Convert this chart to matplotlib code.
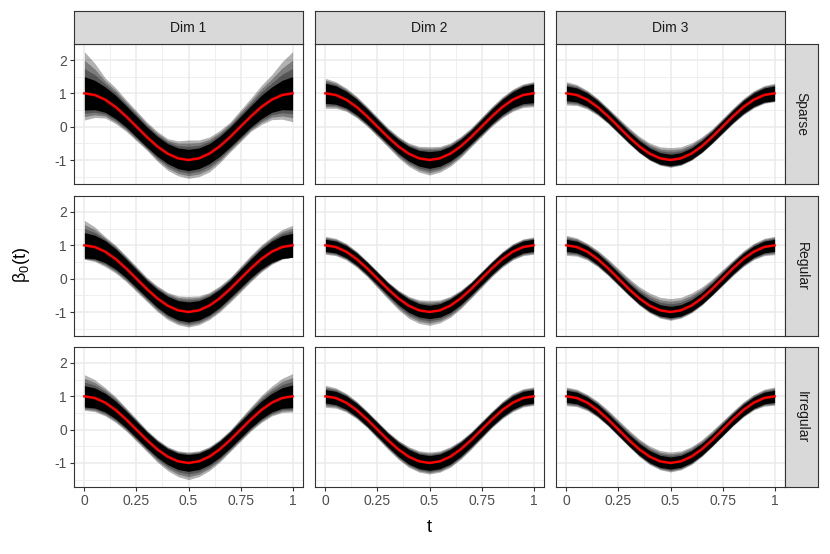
import numpy as np
import matplotlib
matplotlib.use("Agg")
import matplotlib.pyplot as plt

plt.rcParams['font.family'] = ['Liberation Sans', 'DejaVu Sans']
plt.rcParams['mathtext.fontset'] = 'custom'
plt.rcParams['mathtext.rm'] = 'Liberation Sans'

# ============================
# data
# ============================
dims = ["Dim 1", "Dim 2", "Dim 3"]
designs = ["Sparse", "Regular", "Irregular"]

# true beta_0(t), red curve
t_vals = [0.0, 0.05, 0.1, 0.15, 0.2, 0.25, 0.3, 0.35, 0.4, 0.45, 0.5,
          0.55, 0.6, 0.65, 0.7, 0.75, 0.8, 0.85, 0.9, 0.95, 1.0]
truth = [1.0, 0.95, 0.81, 0.59, 0.31, 0.0, -0.31, -0.59, -0.81, -0.95, -1.0,
         -0.95, -0.81, -0.59, -0.31, 0.0, 0.31, 0.59, 0.81, 0.95, 1.0]

# spread of the estimated curves around the truth, read at these t
spread_t = [0.0, 0.1, 0.2, 0.3, 0.4, 0.5, 0.6, 0.7, 0.8, 0.9, 1.0]
# upper extreme, lower extreme, dense core half width  [row][col]
outer_hi = [
    [[1.25, 0.65, 0.5, 0.45, 0.45, 0.6, 0.5, 0.45, 0.55, 0.75, 1.25],
     [0.45, 0.35, 0.3, 0.28, 0.32, 0.4, 0.32, 0.28, 0.3, 0.32, 0.35],
     [0.35, 0.28, 0.25, 0.28, 0.32, 0.37, 0.32, 0.25, 0.25, 0.27, 0.3]],
    [[0.75, 0.45, 0.38, 0.35, 0.4, 0.47, 0.4, 0.35, 0.4, 0.45, 0.6],
     [0.27, 0.25, 0.22, 0.22, 0.28, 0.35, 0.28, 0.22, 0.22, 0.24, 0.25],
     [0.3, 0.25, 0.28, 0.32, 0.38, 0.4, 0.38, 0.3, 0.25, 0.25, 0.27]],
    [[0.65, 0.45, 0.35, 0.3, 0.3, 0.33, 0.3, 0.3, 0.38, 0.5, 0.68],
     [0.33, 0.28, 0.25, 0.25, 0.3, 0.33, 0.3, 0.25, 0.25, 0.28, 0.28],
     [0.28, 0.25, 0.28, 0.3, 0.32, 0.33, 0.3, 0.28, 0.25, 0.25, 0.28]],
]
outer_lo = [
    [[0.8, 0.55, 0.45, 0.4, 0.5, 0.55, 0.55, 0.45, 0.45, 0.6, 0.85],
     [0.45, 0.35, 0.3, 0.3, 0.38, 0.45, 0.38, 0.3, 0.3, 0.35, 0.4],
     [0.35, 0.28, 0.22, 0.2, 0.2, 0.22, 0.2, 0.2, 0.22, 0.25, 0.25]],
    [[0.42, 0.45, 0.4, 0.38, 0.42, 0.45, 0.42, 0.4, 0.4, 0.38, 0.35],
     [0.27, 0.25, 0.25, 0.3, 0.38, 0.4, 0.35, 0.28, 0.25, 0.25, 0.27],
     [0.3, 0.25, 0.22, 0.2, 0.22, 0.25, 0.22, 0.2, 0.22, 0.24, 0.28]],
    [[0.42, 0.4, 0.35, 0.35, 0.42, 0.5, 0.42, 0.35, 0.35, 0.4, 0.47],
     [0.33, 0.28, 0.25, 0.28, 0.32, 0.33, 0.32, 0.28, 0.25, 0.27, 0.27],
     [0.28, 0.24, 0.2, 0.2, 0.24, 0.27, 0.24, 0.2, 0.2, 0.22, 0.27]],
]
core_hw = [
    [[0.5, 0.38, 0.32, 0.3, 0.3, 0.32, 0.3, 0.3, 0.32, 0.38, 0.5],
     [0.3, 0.25, 0.22, 0.2, 0.22, 0.25, 0.22, 0.2, 0.22, 0.24, 0.28],
     [0.22, 0.2, 0.18, 0.17, 0.17, 0.17, 0.17, 0.17, 0.18, 0.2, 0.22]],
    [[0.38, 0.33, 0.28, 0.26, 0.28, 0.3, 0.28, 0.26, 0.28, 0.32, 0.36],
     [0.18, 0.18, 0.18, 0.18, 0.2, 0.2, 0.2, 0.18, 0.18, 0.18, 0.18],
     [0.18, 0.17, 0.17, 0.17, 0.17, 0.17, 0.17, 0.17, 0.17, 0.17, 0.18]],
    [[0.32, 0.28, 0.25, 0.24, 0.24, 0.25, 0.24, 0.24, 0.25, 0.28, 0.34],
     [0.2, 0.2, 0.2, 0.2, 0.22, 0.22, 0.22, 0.2, 0.2, 0.2, 0.2],
     [0.18, 0.17, 0.17, 0.17, 0.18, 0.18, 0.18, 0.17, 0.17, 0.17, 0.18]],
]

x_ticks = [0, 0.25, 0.5, 0.75, 1]
x_labels = ["0", "0.25", "0.5", "0.75", "1"]
y_ticks = [-1, 0, 1, 2]

# ============================
# layout (pixels of an 830x554 canvas)
# ============================
W, H = 830, 554
col_left = [74, 315, 556]
panel_w = 229
row_top = [44, 196, 347]
panel_h = 140
strip = 33

fig = plt.figure(figsize=(W / 100, H / 100), dpi=100)
fig.patch.set_facecolor("white")

def px_box(x0, y0, w, h):
    return [x0 / W, 1 - (y0 + h) / H, w / W, h / H]

def style_strip(a):
    a.set_facecolor("#D9D9D9")
    a.set_xticks([])
    a.set_yticks([])
    for s in a.spines.values():
        s.set_color("#333333")
        s.set_linewidth(0.8)

t = np.array(t_vals)
mid = np.array(truth)

for r in range(3):
    for c in range(3):
        ax = fig.add_axes(px_box(col_left[c], row_top[r], panel_w, panel_h))
        ax.set_xlim(-0.05, 1.05)
        ax.set_ylim(-1.72, 2.48)
        ax.set_xticks(x_ticks)
        ax.set_xticks([0.125, 0.375, 0.625, 0.875], minor=True)
        ax.set_yticks(y_ticks)
        ax.set_yticks([-1.5, -0.5, 0.5, 1.5], minor=True)
        ax.grid(which="major", color="#EBEBEB", lw=1.1)
        ax.grid(which="minor", color="#EBEBEB", lw=0.55)
        ax.set_axisbelow(True)
        for s in ax.spines.values():
            s.set_color("#333333")
            s.set_linewidth(0.8)
        ax.tick_params(which="minor", length=0)
        ax.tick_params(which="major", length=3, width=0.8, color="#333333",
                       labelsize=10, labelcolor="#4D4D4D", pad=2)

        # band half widths on the plotting grid
        hi = np.interp(t, spread_t, outer_hi[r][c])
        lo = np.interp(t, spread_t, outer_lo[r][c])
        core = np.interp(t, spread_t, core_hw[r][c])
        # grey halo: translucent layers from the extremes inward
        for f in [1.0, 0.66, 0.33]:
            up = core + f * (hi - core)
            dn = core + f * (lo - core)
            ax.fill_between(t, mid - dn, mid + up, color="black", alpha=0.3, lw=0)
        ax.fill_between(t, mid - core, mid + core, color="black", lw=0)
        ax.plot(t, mid, color="red", lw=1.8)

        if r < 2:
            ax.tick_params(axis="x", which="both", length=0, labelbottom=False)
        else:
            ax.set_xticklabels(x_labels)
        if c > 0:
            ax.tick_params(axis="y", which="both", length=0, labelleft=False)
        else:
            ax.set_yticklabels([str(v) for v in y_ticks])

        if r == 0:
            sx = fig.add_axes(px_box(col_left[c], row_top[0] - strip, panel_w, strip))
            style_strip(sx)
            sx.text(0.5, 0.5, dims[c], ha="center", va="center", fontsize=10,
                    color="#1A1A1A", transform=sx.transAxes)
        if c == 2:
            sy = fig.add_axes(px_box(col_left[2] + panel_w, row_top[r], strip, panel_h))
            style_strip(sy)
            sy.text(0.5, 0.5, designs[r], ha="center", va="center", fontsize=10,
                    color="#1A1A1A", rotation=-90, transform=sy.transAxes)

fig.text((col_left[0] + col_left[2] + panel_w) / 2 / W, 1 - 527 / H, "t",
         ha="center", va="center", fontsize=13)
fig.text(22 / W, 1 - 265 / H, r"$\mathregular{β_0(t)}$", ha="center", va="center",
         fontsize=13, rotation=90)

fig.savefig("out.png", dpi=100)
